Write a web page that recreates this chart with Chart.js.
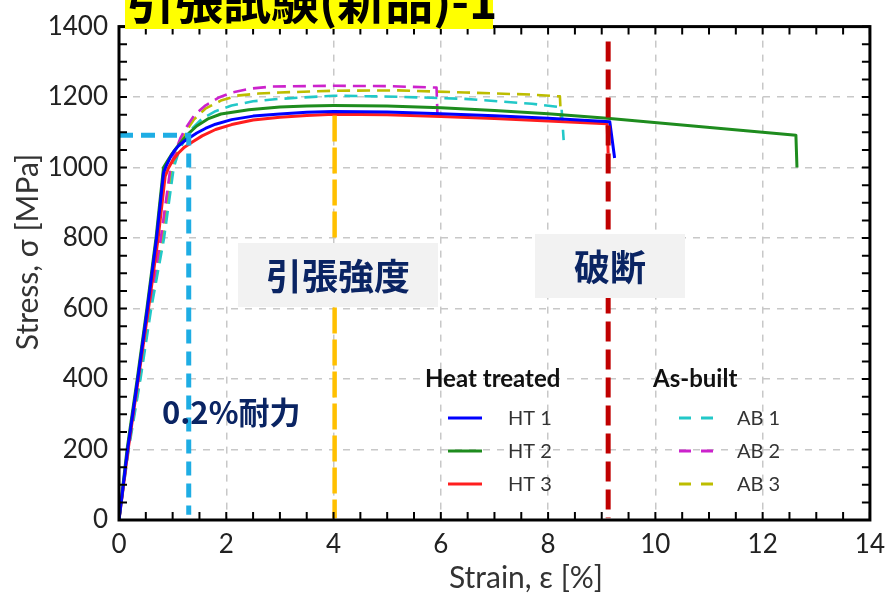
<!DOCTYPE html>
<html><head><meta charset="utf-8">
<script src="https://cdn.jsdelivr.net/npm/chart.js@4.4.1/dist/chart.umd.min.js"></script>
<style>html,body{margin:0;padding:0;background:#fff;}#wrap{width:894px;height:596px;}</style>
</head><body><div id="wrap"><canvas id="c" width="894" height="596"></canvas></div>
<script>
const titleText = '引張試験(新品)-1';
const xAxisTitle = 'Strain, ε [%]';
const yAxisTitle = 'Stress, σ [MPa]';
const xTicksMax = 14, yTicksMax = 1400;

const ht1Strain = [0, 0.16, 0.35, 0.53, 0.70, 0.83, 0.88, 0.95, 1.02, 1.1, 1.2, 1.3, 1.45, 1.61, 1.8, 2.1, 2.5, 3.0, 3.5, 4.0, 5.0, 6.0, 7.0, 8.0, 9.15, 9.24];
const ht1Stress = [0, 200, 400, 600, 800, 985, 1005, 1027, 1045, 1060, 1073, 1083, 1098, 1111, 1123, 1136, 1146, 1152, 1157, 1159, 1158, 1153, 1147, 1140, 1130, 1027];
const ht2Strain = [0, 0.15, 0.34, 0.52, 0.69, 0.83, 0.9, 0.97, 1.08, 1.2, 1.3, 1.45, 1.67, 1.9, 2.42, 3.0, 3.5, 4.0, 5.0, 6.0, 7.0, 8.0, 9.1, 12.62, 12.64];
const ht2Stress = [0, 200, 400, 600, 800, 1000, 1018, 1035, 1058, 1080, 1097, 1118, 1139, 1152, 1164, 1172, 1175, 1176, 1175, 1170, 1162, 1153, 1140, 1092, 1000];
const ht3Strain = [0, 0.17, 0.36, 0.55, 0.73, 0.86, 0.92, 1.0, 1.1, 1.22, 1.36, 1.55, 1.8, 2.1, 2.5, 3.0, 3.5, 4.0, 5.0, 6.0, 7.0, 8.0, 9.1, 9.12];
const ht3Stress = [0, 200, 400, 600, 800, 975, 998, 1020, 1040, 1058, 1072, 1090, 1108, 1122, 1135, 1143, 1148, 1151, 1150, 1145, 1139, 1132, 1124, 1040];
const ab1Strain = [0, 0.18, 0.40, 0.60, 0.84, 1.02, 1.12, 1.24, 1.38, 1.55, 1.8, 2.1, 2.5, 3.0, 4.0, 5.2, 6.45, 7.7, 8.25, 8.29];
const ab1Stress = [0, 200, 400, 600, 800, 1000, 1048, 1083, 1113, 1139, 1160, 1176, 1188, 1195, 1204, 1201, 1195, 1181, 1171, 1078];
const ab2Strain = [0, 0.17, 0.38, 0.57, 0.78, 0.96, 1.05, 1.14, 1.24, 1.4, 1.61, 1.85, 2.1, 2.45, 2.85, 4.0, 5.0, 5.92, 5.94];
const ab2Stress = [0, 200, 400, 600, 800, 1000, 1045, 1082, 1111, 1148, 1176, 1198, 1213, 1224, 1230, 1232, 1231, 1227, 1137];
const ab3Strain = [0, 0.17, 0.39, 0.58, 0.81, 0.99, 1.1, 1.24, 1.4, 1.61, 1.9, 2.2, 2.6, 3.0, 4.0, 5.2, 6.45, 7.7, 8.22, 8.24];
const ab3Stress = [0, 200, 400, 600, 800, 1000, 1058, 1101, 1137, 1167, 1190, 1204, 1210, 1213, 1218, 1219, 1213, 1207, 1202, 1140];

const proofStrain = [0, 1.30, 1.30], proofStress = [1092, 1092, 15];
const tensileStrain = [4.02, 4.02], tensileStress = [1148, 5];
const fractureStrain = [9.12, 9.12], fractureStress = [1358, 5];

const seriesLabels = ['HT 1','HT 2','HT 3','AB 1','AB 2','AB 3'];
const groupLabels = ['Heat treated','As-built'];
const noteLabels = ['引張強度','破断','0.2%耐力'];

function pts(xs, ys){ return xs.map((x,i)=>({x:x, y:ys[i]})); }
const colors = ['#0000FF','#1E8C1E','#FF1E1E','#22C8C8','#CC22CC','#BDBD00'];
const curveData = [[ht1Strain,ht1Stress],[ht2Strain,ht2Stress],[ht3Strain,ht3Stress],[ab1Strain,ab1Stress],[ab2Strain,ab2Stress],[ab3Strain,ab3Stress]];

const datasets = [
  {label:'proof', data:pts(proofStrain,proofStress), borderColor:'#1EADE4', borderWidth:5, borderDash:[14,8], pointRadius:0, order:0, tension:0},
  {label:'tensile', data:pts(tensileStrain,tensileStress), borderColor:'#FFC000', borderWidth:4.5, borderDash:[26,6], pointRadius:0, order:0, tension:0},
  {label:'fracture', data:pts(fractureStrain,fractureStress), borderColor:'#C00000', borderWidth:5, borderDash:[20,8], pointRadius:0, order:0, tension:0}
];
curveData.forEach((d,i)=>{
  datasets.push({label:seriesLabels[i], data:pts(d[0],d[1]), borderColor:colors[i], borderWidth:i<3?3:2.6,
    borderDash:i<3?[]:[13,7], pointRadius:0, tension:0, borderJoinStyle:'round', order:1+i});
});

const framePlugin = {
  id:'frame',
  afterDatasetsDraw(chart){
    const ctx = chart.ctx, a = chart.chartArea, xs = chart.scales.x, ys = chart.scales.y;
    ctx.save();
    ctx.fillStyle = '#F2F2F2';
    ctx.fillRect(238,243,200,64);
    ctx.fillRect(535,234,150,64);
    ctx.fillStyle = '#0A2463';
    ctx.font = 'bold 36px "Noto Sans CJK JP"';
    ctx.textAlign='center'; ctx.textBaseline='middle';
    ctx.fillText(noteLabels[0], 338, 276);
    ctx.fillText(noteLabels[1], 610, 267);
    ctx.textAlign='left';
    ctx.font = 'bold 31px "Noto Sans CJK JP"';
    ctx.fillText(noteLabels[2], 162, 412);
    ctx.fillStyle='#111';
    ctx.font='bold 24px Lato';
    ctx.textBaseline='alphabetic';
    ctx.fillText(groupLabels[0], 425, 387);
    ctx.fillText(groupLabels[1], 653, 387);
    ctx.font='20px Lato';
    const rowsY=[418,451,484];
    for(let i=0;i<6;i++){
      const g = i<3?0:1, r=i%3;
      const lx = g===0?448:679, tx = g===0?508:737;
      ctx.strokeStyle=colors[i]; ctx.lineWidth=3;
      ctx.setLineDash(g===0?[]:[12,10]);
      ctx.beginPath(); ctx.moveTo(lx,rowsY[r]); ctx.lineTo(lx+34,rowsY[r]); ctx.stroke();
      ctx.setLineDash([]);
      ctx.fillStyle='#333'; ctx.textBaseline='middle';
      ctx.fillText(seriesLabels[i], tx, rowsY[r]+1);
    }
    ctx.strokeStyle='#000'; ctx.lineWidth=3; ctx.setLineDash([]);
    ctx.strokeRect(a.left, a.top, a.right-a.left, a.bottom-a.top);
    ctx.lineWidth=2;
    ctx.beginPath();
    for(let v=0; v<=yTicksMax; v+=50){
      const y = ys.getPixelForValue(v);
      ctx.moveTo(a.left,y); ctx.lineTo(a.left+8,y);
      ctx.moveTo(a.right,y); ctx.lineTo(a.right-8,y);
    }
    for(let v=0; v<=xTicksMax; v+=0.5){
      const x = xs.getPixelForValue(v);
      ctx.moveTo(x,a.bottom); ctx.lineTo(x,a.bottom-8);
      ctx.moveTo(x,a.top); ctx.lineTo(x,a.top+8);
    }
    ctx.stroke();
    ctx.fillStyle='#333';
    ctx.font='30px Lato';
    ctx.textAlign='center'; ctx.textBaseline='middle';
    ctx.fillText(xAxisTitle, 526, 578);
    ctx.translate(28, 252);
    ctx.rotate(-Math.PI/2);
    ctx.fillText(yAxisTitle, 0, 0);
    ctx.restore();
  },
  afterDraw(chart){
    const ctx = chart.ctx;
    ctx.save();
    ctx.fillStyle='#FFFF00';
    ctx.fillRect(125,0,368,29);
    ctx.fillStyle='#000';
    ctx.font='bold 48px "Noto Sans CJK JP"';
    ctx.textAlign='left'; ctx.textBaseline='alphabetic';
    ctx.fillText(titleText, 127, 19);
    ctx.restore();
  }
};

new Chart(document.getElementById('c'), {
  type:'line',
  data:{datasets:datasets},
  options:{
    responsive:false, animation:false, maintainAspectRatio:false,
    layout:{padding:{top:20,right:22,left:0,bottom:0}},
    plugins:{legend:{display:false}, tooltip:{enabled:false}},
    scales:{
      x:{type:'linear', min:0, max:xTicksMax,
        ticks:{stepSize:2, padding:9, color:'#222', font:{family:'Lato', size:26}, callback:v=>String(v)},
        grid:{color:'#C8C8C8', lineWidth:1.5, drawTicks:false},
        border:{display:false, dash:[7,7]},
        title:{display:false},
        afterFit(s){ s.height = 76; }
      },
      y:{type:'linear', min:0, max:yTicksMax,
        ticks:{stepSize:200, padding:11, color:'#222', font:{family:'Lato', size:26}, callback:v=>String(v)},
        grid:{color:'#C8C8C8', lineWidth:1.5, drawTicks:false},
        border:{display:false, dash:[7,7]},
        title:{display:false},
        afterFit(s){ s.width = 119; }
      }
    }
  },
  plugins:[framePlugin]
});
</script></body></html>
